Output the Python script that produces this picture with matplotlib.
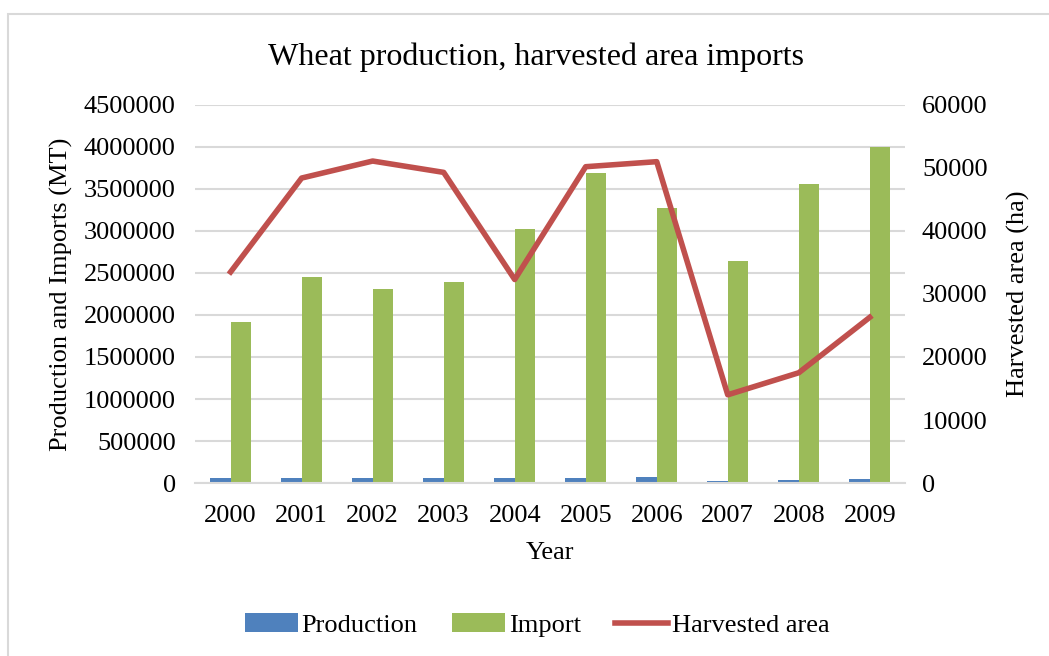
import numpy as np
import matplotlib.pyplot as plt
from matplotlib.patches import Rectangle
from matplotlib.ticker import FuncFormatter

years = ['2000', '2001', '2002', '2003', '2004', '2005', '2006', '2007', '2008', '2009']
production = [60000, 60000, 62000, 62000, 65000, 65000, 68000, 25000, 32000, 50000]
imports = [1917000, 2452000, 2310000, 2393000, 3024000, 3690000, 3274000, 2643000, 3560000, 4000000]
harvested = [33500, 48400, 51100, 49300, 32300, 50200, 51000, 14000, 17500, 26300]

plt.rcParams['font.family'] = ['Liberation Serif', 'DejaVu Serif']

fig = plt.figure(figsize=(10.49, 6.56), dpi=100)
# light chart border (Excel chart area), runs off the right and bottom
fig.patches.append(Rectangle((8 / 1049, -0.1), 1.2, 1.1 - 14 / 656, transform=fig.transFigure,
                             fill=False, edgecolor='#d9d9d9', linewidth=1.5))

ax = fig.add_axes([0.186, 0.2637, 0.677, 0.5763])
x = np.arange(len(years))
w = 0.29
ax.bar(x - w / 2, production, w, color='#4f81bd', label='Production', zorder=2)
ax.bar(x + w / 2, imports, w, color='#9bbb59', label='Import', zorder=2)

ax.set_ylim(0, 4500000)
ax.set_yticks(np.arange(0, 4500001, 500000))
ax.yaxis.set_major_formatter(FuncFormatter(lambda v, p: '%d' % v))
ax.set_xlim(-0.5, len(years) - 0.5)
ax.set_xticks(x)
ax.set_xticklabels(years)
ax.grid(axis='y', color='#d9d9d9', linewidth=1.5, zorder=0)
ax.set_axisbelow(True)
for s in ['top', 'right', 'left']:
    ax.spines[s].set_visible(False)
ax.spines['bottom'].set_color('#d9d9d9')
ax.spines['bottom'].set_linewidth(1.5)
ax.tick_params(axis='y', length=0, labelsize=19, pad=14)
ax.tick_params(axis='x', length=0, labelsize=19, pad=16)
ax.set_xlabel('Year', fontsize=19)
ax.xaxis.set_label_coords(0.5, -0.156)
ax.set_ylabel('Production and Imports (MT)', fontsize=19)
ax.yaxis.set_label_coords(-0.172, 0.5)
ax.set_title('Wheat production, harvested area imports', fontsize=23, pad=29, x=0.48)

ax2 = ax.twinx()
ax2.plot(x, harvested, color='#c0504d', linewidth=4, label='Harvested area', zorder=3)
ax2.set_ylim(0, 60000)
ax2.set_yticks(np.arange(0, 60001, 10000))
for s in ['top', 'right', 'left', 'bottom']:
    ax2.spines[s].set_visible(False)
ax2.tick_params(length=0, labelsize=19, pad=12)
ax2.set_ylabel('Harvested area (ha)', fontsize=19)
ax2.yaxis.set_label_coords(1.143, 0.5)

h1, l1 = ax.get_legend_handles_labels()
h2, l2 = ax2.get_legend_handles_labels()
fig.legend(h1 + h2, l1 + l2, loc='center', bbox_to_anchor=(0.512, 0.047), ncol=3, frameon=False,
           fontsize=19, handlelength=2.0, handletextpad=0.15, columnspacing=1.3)

fig.savefig('out.png', dpi=100)
